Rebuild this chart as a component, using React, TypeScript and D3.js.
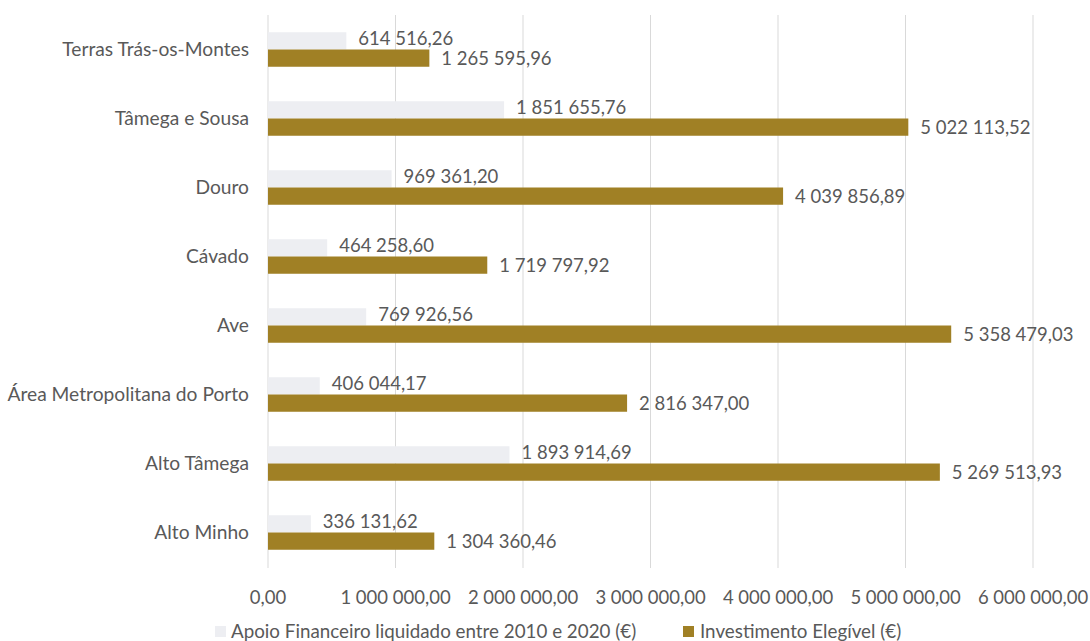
import React from "react";
import * as d3 from "d3";

const categories = [
  "Terras Trás-os-Montes",
  "Tâmega e Sousa",
  "Douro",
  "Cávado",
  "Ave",
  "Área Metropolitana do Porto",
  "Alto Tâmega",
  "Alto Minho",
];
const apoio = [614516.26, 1851655.76, 969361.2, 464258.6, 769926.56, 406044.17, 1893914.69, 336131.62];
const investimento = [1265595.96, 5022113.52, 4039856.89, 1719797.92, 5358479.03, 2816347.0, 5269513.93, 1304360.46];
const ticks = [0, 1000000, 2000000, 3000000, 4000000, 5000000, 6000000];
const seriesNames = ["Apoio Financeiro liquidado entre 2010 e 2020 (€)", "Investimento Elegível (€)"];
const colors = ["#EDEEF2", "#A08025"];

const W = 1090;
const H = 641;
const FONT = "Lato, 'Open Sans', sans-serif";
const TEXT = "#595959";

const loc = d3.formatLocale({ decimal: ",", thousands: " ", grouping: [3], currency: ["", "€"] });
const fmt = loc.format(",.2f");

export default function App() {
  const x = d3.scaleLinear().domain([0, 6000000]).range([268, 1033]);
  const y = d3.scaleBand().domain(categories).range([15, 567]).paddingInner(0.5).paddingOuter(0.25);
  const bh = y.bandwidth() / 2;

  return (
    <svg width={W} height={H} style={{ position: "absolute", left: 0, top: 0, background: "#fff" }}>
      {ticks.map((t) => (
        <g key={t}>
          <line x1={x(t)} x2={x(t)} y1={15} y2={568} stroke="#D9D9D9" strokeWidth={1} />
          <text x={x(t)} y={604} textAnchor="middle" fontFamily={FONT} fontSize={18.5} fill={TEXT}>
            {fmt(t)}
          </text>
        </g>
      ))}
      {categories.map((c, i) => {
        const y0 = y(c)!;
        return (
          <g key={c}>
            <text x={249} y={y0 + bh + 6} textAnchor="end" fontFamily={FONT} fontSize={19.2} fill={TEXT}>
              {c}
            </text>
            <rect x={x(0)} y={y0} width={x(apoio[i]) - x(0)} height={bh} fill={colors[0]} />
            <rect x={x(0)} y={y0 + bh} width={x(investimento[i]) - x(0)} height={bh} fill={colors[1]} />
            <text x={x(apoio[i]) + 12} y={y0 + bh / 2 + 4} fontFamily={FONT} fontSize={18.5} fill={TEXT}>
              {fmt(apoio[i])}
            </text>
            <text x={x(investimento[i]) + 12} y={y0 + bh + bh / 2 + 7} fontFamily={FONT} fontSize={18.5} fill={TEXT}>
              {fmt(investimento[i])}
            </text>
          </g>
        );
      })}
      <g>
        <rect x={215} y={626} width={11} height={11} fill={colors[0]} />
        <text x={231} y={638} fontFamily={FONT} fontSize={18.8} fill={TEXT}>{seriesNames[0]}</text>
        <rect x={683} y={626} width={11} height={11} fill={colors[1]} />
        <text x={700} y={638} fontFamily={FONT} fontSize={18.8} fill={TEXT}>{seriesNames[1]}</text>
      </g>
    </svg>
  );
}
